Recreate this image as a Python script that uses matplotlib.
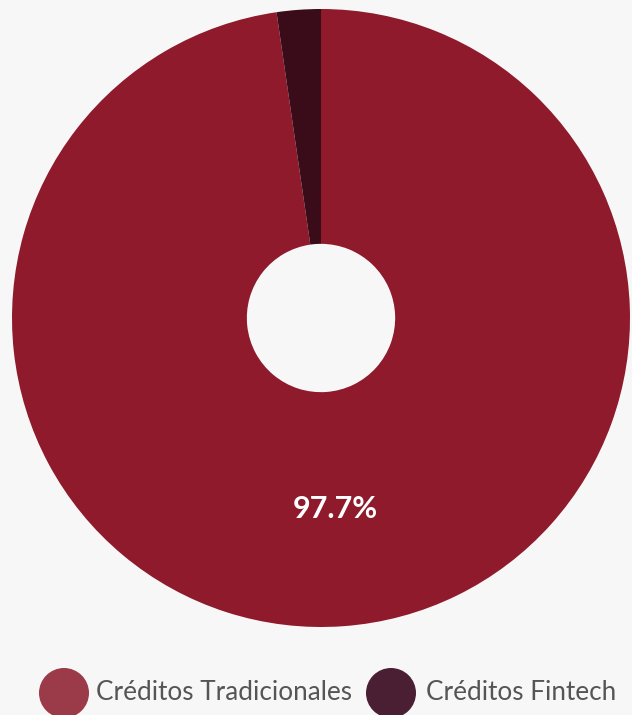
import matplotlib.pyplot as plt
from matplotlib.patches import Ellipse

labels = ['Créditos Tradicionales', 'Créditos Fintech']
values = [97.7, 2.3]
pie_colors = ['#8e1a2c', '#3a0b18']
legend_colors = ['#9b3a48', '#4b1f33']
bg = '#f7f7f7'

plt.rcParams['font.family'] = ['Lato', 'DejaVu Sans']

W, H = 632, 715
fig = plt.figure(figsize=(W / 100, H / 100), dpi=100, facecolor=bg)
ax = fig.add_axes([12 / W, 88 / H, 618 / W, 618 / H])
ax.set_facecolor(bg)

wedges, texts, autotexts = ax.pie(
    values, colors=pie_colors, startangle=90, counterclock=False,
    radius=1, wedgeprops=dict(width=0.76, edgecolor='none'),
    autopct=lambda p: f'{p:.1f}%' if p > 50 else '',
    pctdistance=0.62,
)
for t in autotexts:
    t.set_color('white')
    t.set_fontsize(22)
    t.set_fontweight('bold')
ax.set_xlim(-1, 1)
ax.set_ylim(-1, 1)
ax.set_aspect('equal')

# legend drawn by hand in pixel coordinates
lax = fig.add_axes([0, 0, 1, 80 / H])
lax.set_xlim(0, W)
lax.set_ylim(0, 80)
lax.axis('off')
marker_x = [64, 391]
text_x = [96, 426]
for mx, tx, c, lab in zip(marker_x, text_x, legend_colors, labels):
    lax.add_patch(Ellipse((mx, 22), 50, 50, facecolor=c, edgecolor='none'))
    lax.text(tx, 22, lab, fontsize=18.8, color='#555555', va='center', ha='left')

fig.savefig('out.png', dpi=100, facecolor=bg)
